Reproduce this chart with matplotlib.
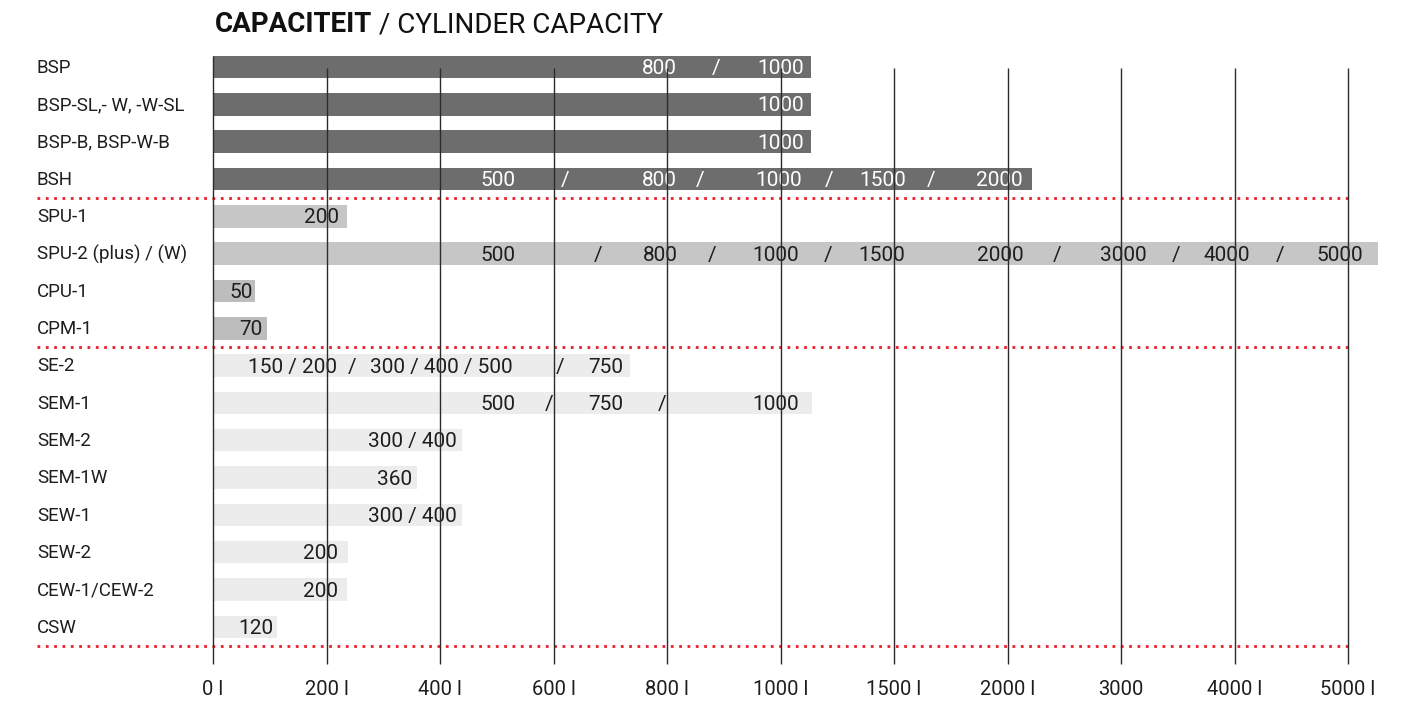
import matplotlib
matplotlib.use("Agg")
import matplotlib.pyplot as plt

plt.rcParams['font.family'] = ['Roboto', 'DejaVu Sans']

# categories (top to bottom)
models = ['BSP', 'BSP-SL,- W, -W-SL', 'BSP-B, BSP-W-B', 'BSH',
          'SPU-1', 'SPU-2 (plus) / (W)', 'CPU-1', 'CPM-1',
          'SE-2', 'SEM-1', 'SEM-2', 'SEM-1W', 'SEW-1', 'SEW-2', 'CEW-1/CEW-2', 'CSW']

# bar ends on the stepped capacity scale (one step per tick)
bar_end = [5.27, 5.27, 5.27, 7.22,
           1.18, 10.26, 0.37, 0.48,
           3.67, 5.28, 2.19, 1.80, 2.19, 1.19, 1.18, 0.56]

bar_color = ['#6d6d6d'] * 4 + ['#c6c6c6'] * 2 + ['#bdbdbd'] * 2 + ['#ececec'] * 8
text_color = ['white'] * 4 + ['#1e1e1e'] * 12

# capacity labels inside bars: (text, position on stepped scale)
cap_labels = [
    [('800', 3.93), ('/', 4.43), ('1000', 5.00)],
    [('1000', 5.00)],
    [('1000', 5.00)],
    [('500', 2.51), ('/', 3.10), ('800', 3.93), ('/', 4.29), ('1000', 4.98),
     ('/', 5.43), ('1500', 5.90), ('/', 6.33), ('2000', 6.93)],
    [('200', 0.96)],
    [('500', 2.51), ('/', 3.39), ('800', 3.94), ('/', 4.40), ('1000', 4.96), ('/', 5.42),
     ('1500', 5.89), ('2000', 6.94), ('/', 7.44), ('3000', 8.02), ('/', 8.49),
     ('4000', 8.93), ('/', 9.40), ('5000', 9.93)],
    [('50', 0.25)],
    [('70', 0.33)],
    [('150 / 200', 0.70), ('/', 1.23), ('300 / 400 / 500', 2.01), ('/', 3.06), ('750', 3.46)],
    [('500', 2.51), ('/', 2.96), ('750', 3.46), ('/', 3.96), ('1000', 4.96)],
    [('300 / 400', 1.76)],
    [('360', 1.60)],
    [('300 / 400', 1.76)],
    [('200', 0.95)],
    [('200', 0.95)],
    [('120', 0.38)],
]

tick_labels = ['0 l', '200 l', '400 l', '600 l', '800 l', '1000 l', '1500 l',
               '2000 l', '3000', '4000 l', '5000 l']
group_breaks = [3.5, 7.5, 15.5]

W, H = 1408, 705
x0, step = 213, 113.5  # pixel of first tick, pixels per step
row0, row_h = 67, 37.33

fig = plt.figure(figsize=(W / 100, H / 100), dpi=100)
ax = fig.add_axes([0, 0, 1, 1])
ax.set_xlim(-x0 / step, (W - x0) / step)
ax.set_ylim((H - row0) / row_h, -row0 / row_h)
ax.axis('off')

rows = list(range(len(models)))
ax.barh(rows, bar_end, height=0.6, color=bar_color, zorder=1)

# vertical grid lines
for i in range(len(tick_labels)):
    top = -0.3 if i == 0 else 0.02
    ax.vlines(i, top, 16.0, color='#2b2b2b', lw=1.0, zorder=3)
    ax.text(i, 16.68, tick_labels[i], ha='center', va='center', fontsize=14.5, color='#1e1e1e')

# red dotted separators
for b in group_breaks:
    ax.plot([(37 - x0) / step, 10], [b, b], color='#e8202a', lw=2,
            linestyle=(0, (1, 2)), zorder=2)

for r in rows:
    ax.text((37 - x0) / step, r + 0.02, models[r], ha='left', va='center',
            fontsize=13.5, color='#1e1e1e')
    for txt, pos in cap_labels[r]:
        ax.text(pos, r + 0.04, txt, ha='center', va='center', fontsize=15,
                color=text_color[r], zorder=2)

# title: bold part + regular part
t1 = fig.text(215 / W, 1 - 25 / H, 'CAPACITEIT', fontsize=20, fontweight='bold',
              ha='left', va='center', color='#111111')
fig.canvas.draw()
bb = t1.get_window_extent()
fig.text(bb.x1 / W, 1 - 25 / H, ' / CYLINDER CAPACITY', fontsize=20,
         ha='left', va='center', color='#111111')

fig.savefig('out.png', dpi=100)
